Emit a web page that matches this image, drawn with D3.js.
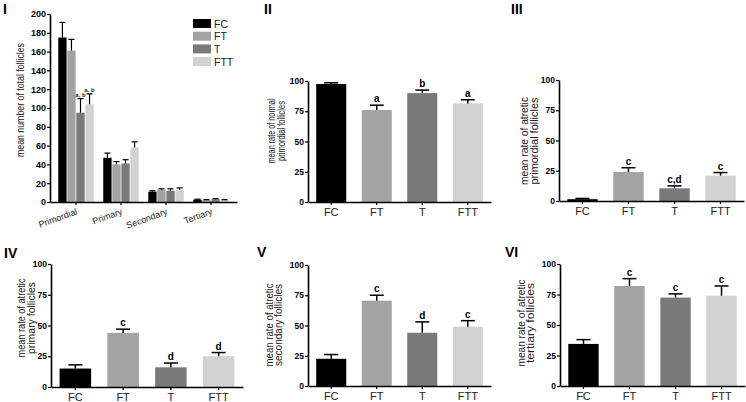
<!DOCTYPE html>
<html>
<head>
<meta charset="utf-8">
<title>follicles</title>
<script src="https://d3js.org/d3.v7.min.js"></script>
<style>
  body { margin: 0; background: #fff; }
  svg { font-family: "Liberation Sans", Arial, sans-serif; }
</style>
</head>
<body>
<div id="chart"></div>
<script>
// groups and stages
var groups = ["FC", "FT", "T", "FTT"];
var stages = ["Primordial", "Primary", "Secondary", "Tertiary"];
var colors = ["#000000", "#a3a3a3", "#7a7a7a", "#d2d2d2"];

// panel I: mean number of total follicles, one row per stage (FC, FT, T, FTT)
var totalMean = [[175, 161, 95, 104], [47, 40, 41, 58], [11, 13, 12, 13], [2.5, 2, 3, 2]];
var totalErr = [[16, 12, 15, 11], [5, 3, 4, 6], [1, 1, 2, 2], [0.5, 0.5, 0.6, 0.5]];
var totalSig = [["", "", "a, b", "a, b"], ["", "", "", ""], ["", "", "", ""], ["", "", "", ""]];
var totalTicks = [0, 20, 40, 60, 80, 100, 120, 140, 160, 180, 200];

// panels II-VI: mean rates (FC, FT, T, FTT)
var normalPrimordial = [97.5, 76, 90, 81.5];
var normalPrimordialErr = [1, 4, 2.5, 3];
var normalPrimordialSig = ["", "a", "b", "a"];

var atreticPrimordial = [1.5, 24, 10.5, 21];
var atreticPrimordialErr = [0.6, 3.5, 2, 2.5];
var atreticPrimordialSig = ["", "c", "c,d", "c"];

var atreticPrimary = [15, 44, 16, 25];
var atreticPrimaryErr = [3, 3, 3.5, 3];
var atreticPrimarySig = ["", "c", "d", "d"];

var atreticSecondary = [22.5, 70.5, 44, 49];
var atreticSecondaryErr = [3.5, 4.5, 9, 5];
var atreticSecondarySig = ["", "c", "d", "c"];

var atreticTertiary = [34.5, 82, 72.5, 74];
var atreticTertiaryErr = [3.5, 6, 3, 8];
var atreticTertiarySig = ["", "c", "c", "c"];

var rateTicks = [0, 25, 50, 75, 100];

var width = 746, height = 402;

var svg = d3.select("#chart").append("svg")
    .attr("width", width)
    .attr("height", height);

function styleAxis(g) {
    g.select(".domain").attr("stroke", "#000").attr("stroke-width", 1.6);
    g.selectAll(".tick line").attr("stroke", "#000").attr("stroke-width", 1.2);
}

function panelLabel(txt, x, y) {
    svg.append("text").attr("x", x).attr("y", y)
        .attr("font-size", "14px").attr("font-weight", "bold")
        .text(txt);
}

function yTitle(lines, xs, cy, lens) {
    lines.forEach(function(t, i) {
        svg.append("text")
            .attr("transform", "translate(" + xs[i] + "," + cy + ") rotate(-90)")
            .attr("text-anchor", "middle")
            .attr("font-size", "11px")
            .attr("fill", "#222")
            .attr("textLength", lens[i])
            .attr("lengthAdjust", "spacingAndGlyphs")
            .text(t);
    });
}

// ---------- panel I ----------
(function() {
    var left = 50, right = 237, bottom = 202, top = 14;
    var x0 = d3.scaleBand().domain(stages).range([left, right]).paddingInner(0.18).paddingOuter(0.167);
    var x1 = d3.scaleBand().domain(groups).range([0, x0.bandwidth()]).padding(0.08);
    var y = d3.scaleLinear().domain([0, 200]).range([bottom, top]);

    var rows = [];
    stages.forEach(function(s, i) {
        groups.forEach(function(gname, j) {
            rows.push({ stage: s, group: gname, c: j, v: totalMean[i][j], e: totalErr[i][j], sig: totalSig[i][j] });
        });
    });

    var g = svg.append("g");
    g.selectAll("rect").data(rows).enter().append("rect")
        .attr("x", d => x0(d.stage) + x1(d.group))
        .attr("width", x1.bandwidth())
        .attr("y", d => y(d.v))
        .attr("height", d => bottom - y(d.v))
        .attr("fill", d => colors[d.c]);

    var cx = d => x0(d.stage) + x1(d.group) + x1.bandwidth() / 2;
    g.selectAll("line.err").data(rows).enter().append("line")
        .attr("x1", cx).attr("x2", cx)
        .attr("y1", d => y(d.v)).attr("y2", d => y(d.v + d.e))
        .attr("stroke", "#000").attr("stroke-width", 1.2);
    g.selectAll("line.cap").data(rows).enter().append("line")
        .attr("x1", d => cx(d) - 3).attr("x2", d => cx(d) + 3)
        .attr("y1", d => y(d.v + d.e)).attr("y2", d => y(d.v + d.e))
        .attr("stroke", "#000").attr("stroke-width", 1.2);
    g.selectAll("text.sig").data(rows.filter(d => d.sig)).enter().append("text")
        .attr("x", cx).attr("y", d => y(d.v + d.e) - 2)
        .attr("text-anchor", "middle").attr("font-size", "6px").attr("font-weight", "bold")
        .attr("fill", "#222")
        .text(d => d.sig);

    var ya = svg.append("g").attr("transform", "translate(" + left + ",0)")
        .call(d3.axisLeft(y).tickValues(totalTicks).tickSize(3).tickSizeOuter(0).tickPadding(1));
    ya.selectAll("text").attr("font-size", "9px").attr("font-weight", "bold").attr("fill", "#000")
        .attr("font-family", "Liberation Sans, Arial, sans-serif");
    styleAxis(ya);

    var xa = svg.append("g").attr("transform", "translate(0," + bottom + ")")
        .call(d3.axisBottom(x0).tickSize(3).tickSizeOuter(0));
    xa.selectAll("text")
        .attr("font-size", "9px").attr("fill", "#222")
        .attr("font-family", "Liberation Sans, Arial, sans-serif")
        .attr("text-anchor", "end")
        .attr("dy", null).attr("y", null)
        .attr("transform", "translate(2,12) rotate(-20)");
    styleAxis(xa);

    // legend
    var lg = svg.append("g").attr("transform", "translate(193,19)");
    groups.forEach(function(gname, i) {
        lg.append("rect").attr("x", 0).attr("y", i * 12.7).attr("width", 18).attr("height", 9).attr("fill", colors[i]);
        lg.append("text").attr("x", 21).attr("y", i * 12.7 + 8.5)
            .attr("font-size", "10.5px").attr("fill", "#222").text(gname);
    });

    panelLabel("I", 3, 14);
    yTitle(["mean number of total follicles"], [24], 100, [114]);
})();

// ---------- panels II-VI ----------
var panels = [
    { label: "II", lx: 264, ly: 14, x0: 308, x1: 491, y0: 202, y1: 81,
      means: normalPrimordial, errs: normalPrimordialErr, sig: normalPrimordialSig,
      title: ["mean rate of normal", "primordial follicles"], tx: [275, 285], ty: 131, tl: [65, 60] },
    { label: "III", lx: 511, ly: 14, x0: 559, x1: 744, y0: 201, y1: 80,
      means: atreticPrimordial, errs: atreticPrimordialErr, sig: atreticPrimordialSig,
      title: ["mean rate of atretic", "primordial follicles"], tx: [528, 538], ty: 141, tl: [88, 87] },
    { label: "IV", lx: 4, ly: 258, x0: 51, x1: 243, y0: 387, y1: 264,
      means: atreticPrimary, errs: atreticPrimaryErr, sig: atreticPrimarySig,
      title: ["mean rate of atretic", "primary follicles"], tx: [25, 35], ty: 318, tl: [79, 72] },
    { label: "V", lx: 257, ly: 257, x0: 308, x1: 491, y0: 386, y1: 265,
      means: atreticSecondary, errs: atreticSecondaryErr, sig: atreticSecondarySig,
      title: ["mean rate of atretic", "secondary follicles"], tx: [273, 282], ty: 325, tl: [83, 82] },
    { label: "VI", lx: 505, ly: 257, x0: 560, x1: 745, y0: 386, y1: 264,
      means: atreticTertiary, errs: atreticTertiaryErr, sig: atreticTertiarySig,
      title: ["mean rate of atretic", "tertiary follicles"], tx: [525, 534], ty: 323, tl: [87, 80] }
];

panels.forEach(function(p) {
    var x = d3.scaleBand().domain(groups).range([p.x0, p.x1]).paddingInner(0.34).paddingOuter(0.18);
    var y = d3.scaleLinear().domain([0, 100]).range([p.y0, p.y1]);
    var rows = groups.map(function(gname, i) {
        return { group: gname, c: i, v: p.means[i], e: p.errs[i], sig: p.sig[i] };
    });
    var cx = d => x(d.group) + x.bandwidth() / 2;

    var g = svg.append("g");
    g.selectAll("rect").data(rows).enter().append("rect")
        .attr("x", d => x(d.group))
        .attr("width", x.bandwidth())
        .attr("y", d => y(d.v))
        .attr("height", d => p.y0 - y(d.v))
        .attr("fill", d => colors[d.c]);
    g.selectAll("line.err").data(rows).enter().append("line")
        .attr("x1", cx).attr("x2", cx)
        .attr("y1", d => y(d.v)).attr("y2", d => y(d.v + d.e))
        .attr("stroke", "#000").attr("stroke-width", 1.5);
    g.selectAll("line.cap").data(rows).enter().append("line")
        .attr("x1", d => cx(d) - 7).attr("x2", d => cx(d) + 7)
        .attr("y1", d => y(d.v + d.e)).attr("y2", d => y(d.v + d.e))
        .attr("stroke", "#000").attr("stroke-width", 1.5);
    g.selectAll("text.sig").data(rows.filter(d => d.sig)).enter().append("text")
        .attr("x", cx).attr("y", d => y(d.v + d.e) - 3)
        .attr("text-anchor", "middle").attr("font-size", "10px").attr("font-weight", "bold")
        .text(d => d.sig);

    var ya = svg.append("g").attr("transform", "translate(" + p.x0 + ",0)")
        .call(d3.axisLeft(y).tickValues(rateTicks).tickSize(3).tickSizeOuter(0).tickPadding(1));
    ya.selectAll("text").attr("font-size", "8.5px").attr("font-weight", "bold").attr("fill", "#000")
        .attr("font-family", "Liberation Sans, Arial, sans-serif");
    styleAxis(ya);

    var xa = svg.append("g").attr("transform", "translate(0," + p.y0 + ")")
        .call(d3.axisBottom(x).tickSize(3).tickSizeOuter(0).tickPadding(3));
    xa.selectAll("text").attr("font-size", "11px").attr("fill", "#222")
        .attr("font-family", "Liberation Sans, Arial, sans-serif");
    styleAxis(xa);

    panelLabel(p.label, p.lx, p.ly);
    yTitle(p.title, p.tx, p.ty, p.tl);
});
</script>
</body>
</html>
